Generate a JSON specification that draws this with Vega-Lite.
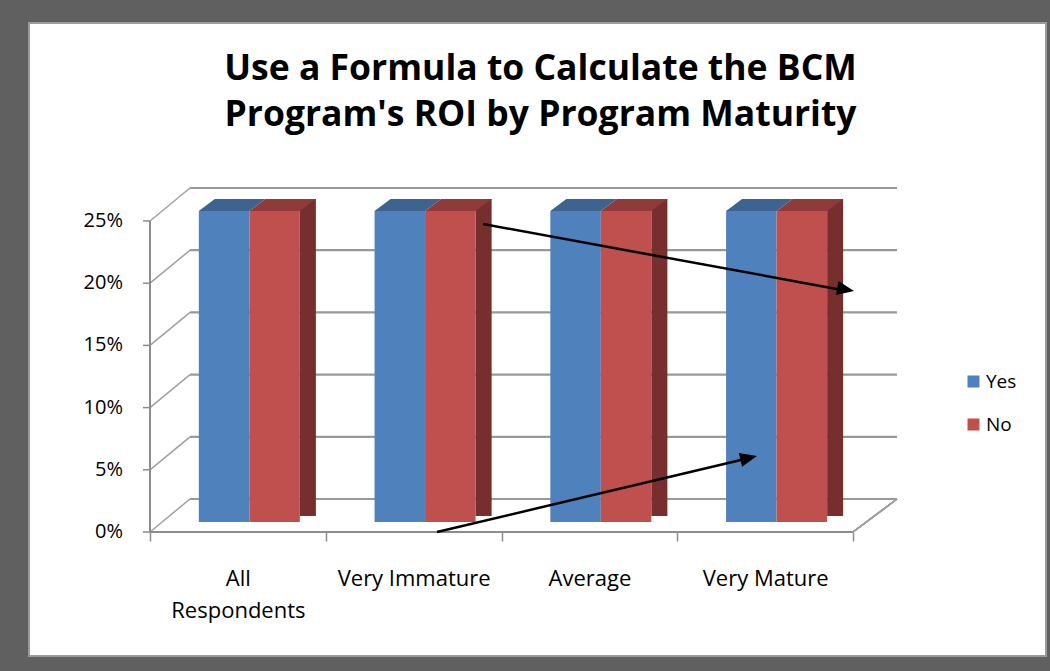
{
  "$schema": "https://vega.github.io/schema/vega-lite/v6.json",
  "width": 1017,
  "height": 633,
  "autosize": {"type": "none"},
  "padding": {"left": 29, "top": 23, "right": 4, "bottom": 15},
  "background": "#606060",
  "config": {
    "view": {"fill": "white", "stroke": "#9a9a9a", "strokeWidth": 2},
    "font": "Open Sans"
  },
  "title": {
    "text": ["Use a Formula to Calculate the BCM", "Program's ROI by Program Maturity"],
    "orient": "top",
    "anchor": "middle",
    "frame": "group",
    "offset": -138,
    "baseline": "alphabetic",
    "fontSize": 35.5,
    "fontWeight": "bold",
    "font": "Open Sans",
    "color": "#000000",
    "lineHeight": 46,
    "dx": 3
  },
  "datasets": {
    "bars": [
      {"category": "All Respondents", "series": "Yes", "value": 0.25},
      {"category": "All Respondents", "series": "No", "value": 0.25},
      {"category": "Very Immature", "series": "Yes", "value": 0.25},
      {"category": "Very Immature", "series": "No", "value": 0.25},
      {"category": "Average", "series": "Yes", "value": 0.25},
      {"category": "Average", "series": "No", "value": 0.25},
      {"category": "Very Mature", "series": "Yes", "value": 0.25},
      {"category": "Very Mature", "series": "No", "value": 0.25}
    ],
    "grid": [
      {"level": 0}, {"level": 0.05}, {"level": 0.1}, {"level": 0.15}, {"level": 0.2}, {"level": 0.25}
    ]
  },
  "layer": [
    {
      "data": {"name": "grid"},
      "layer": [
        {
          "mark": {"type": "rule", "color": "#999999", "strokeWidth": 2.2, "xOffset": 40, "x2Offset": 44, "yOffset": -33},
          "encoding": {
            "x": {"datum": 0, "type": "quantitative", "scale": {"domain": [-0.6885, 5.0982], "nice": false, "zero": false}, "axis": null},
            "x2": {"datum": 4},
            "y": {"field": "level", "type": "quantitative", "scale": {"domain": [-0.09968, 0.40916], "nice": false, "zero": false}, "axis": null}
          }
        },
        {
          "mark": {"type": "rule", "color": "#a0a0a0", "strokeWidth": 1.5, "x2Offset": 40, "y2Offset": -33},
          "encoding": {
            "x": {"datum": 0, "type": "quantitative", "axis": null},
            "x2": {"datum": 0},
            "y": {"field": "level", "type": "quantitative", "axis": null},
            "y2": {"field": "level"}
          }
        },
        {
          "mark": {"type": "rule", "color": "#8c8c8c", "strokeWidth": 1.5, "x2Offset": -7},
          "encoding": {
            "x": {"datum": 0, "type": "quantitative", "axis": null},
            "x2": {"datum": 0},
            "y": {"field": "level", "type": "quantitative", "axis": null},
            "y2": {"field": "level"}
          }
        },
        {
          "mark": {"type": "text", "align": "right", "baseline": "middle", "xOffset": -27, "font": "Open Sans", "fontSize": 20, "color": "#000000"},
          "encoding": {
            "x": {"datum": 0, "type": "quantitative", "axis": null},
            "y": {"field": "level", "type": "quantitative", "axis": null},
            "text": {"field": "level", "type": "quantitative", "format": ".0%"}
          }
        },
        {
          "mark": {"type": "rule", "color": "#8c8c8c", "strokeWidth": 1.5},
          "encoding": {
            "x": {"datum": 0, "type": "quantitative", "axis": null},
            "x2": {"datum": 4},
            "y": {"datum": 0, "type": "quantitative", "axis": null}
          }
        },
        {
          "mark": {"type": "rule", "color": "#a0a0a0", "strokeWidth": 1.5, "x2Offset": 44, "y2Offset": -33},
          "encoding": {
            "x": {"datum": 4, "type": "quantitative", "axis": null},
            "x2": {"datum": 4},
            "y": {"datum": 0, "type": "quantitative", "axis": null},
            "y2": {"datum": 0}
          }
        },
        {
          "mark": {"type": "rule", "color": "#8c8c8c", "strokeWidth": 1.5},
          "encoding": {
            "x": {"datum": 0, "type": "quantitative", "axis": null},
            "y": {"datum": 0, "type": "quantitative", "axis": null},
            "y2": {"datum": 0.25}
          }
        }
      ]
    },
    {
      "data": {"name": "bars"},
      "layer": [
        {
          "mark": {"type": "bar", "yOffset": -10, "y2Offset": -10},
          "encoding": {
            "x": {
              "field": "category", "type": "nominal",
              "sort": ["All Respondents", "Very Immature", "Average", "Very Mature"],
              "scale": {"paddingInner": 0, "paddingOuter": 0.8933, "align": 0.3854},
              "axis": {
                "title": null, "orient": "bottom", "offset": -124, "domain": false, "grid": false,
                "ticks": true, "tickBand": "extent", "tickSize": 9, "tickColor": "#8c8c8c", "tickWidth": 1.5,
                "labelFont": "Open Sans", "labelFontSize": 22, "labelColor": "#000000", "labelPadding": 27,
                "labelAngle": 0, "labelLineHeight": 32, "labelLimit": 400, "labelOverlap": false,
                "labelExpr": "datum.label === 'All Respondents' ? ['All', 'Respondents'] : datum.label"
              }
            },
            "xOffset": {
              "field": "series", "type": "nominal", "sort": ["Yes", "No"],
              "scale": {"domain": ["Yes", "No"], "paddingInner": 0, "paddingOuter": 0.74, "align": 0.653}
            },
            "y": {
              "field": "value", "type": "quantitative", "stack": null,
              "scale": {"domain": [-0.09968, 0.40916], "nice": false, "zero": false},
              "axis": null
            },
            "y2": {"datum": 0},
            "color": {
              "field": "series", "type": "nominal", "sort": ["Yes", "No"],
              "scale": {"domain": ["Yes", "No"], "range": ["#4f81bd", "#c0504d"]},
              "legend": {
                "title": null, "orient": "none", "legendX": 935, "legendY": 349,
                "symbolType": "square", "symbolSize": 144, "symbolStrokeWidth": 0, "symbolOpacity": 1,
                "labelFont": "Open Sans", "labelFontSize": 19, "labelColor": "#000000",
                "labelOffset": 3, "rowPadding": 23, "padding": 0
              }
            }
          }
        },
        {
          "transform": [{"filter": "datum.series === 'No'"}],
          "mark": {"type": "bar", "color": "#772f2d", "width": 16, "xOffset": 70, "yOffset": -22, "y2Offset": -16},
          "encoding": {
            "x": {"field": "category", "type": "nominal", "sort": ["All Respondents", "Very Immature", "Average", "Very Mature"]},
            "y": {"field": "value", "type": "quantitative", "stack": null, "axis": null},
            "y2": {"datum": 0}
          }
        },
        {
          "transform": [{"filter": "datum.series === 'Yes'"}],
          "mark": {"type": "point", "filled": true, "size": 4, "opacity": 1, "strokeWidth": 0, "fill": "#3d6491",
                   "shape": "M -39.1 -10 L 11.4 -10 L 27.4 -22 L -23.1 -22 Z"},
          "encoding": {
            "x": {"field": "category", "type": "nominal", "sort": ["All Respondents", "Very Immature", "Average", "Very Mature"]},
            "y": {"field": "value", "type": "quantitative", "axis": null}
          }
        },
        {
          "transform": [{"filter": "datum.series === 'No'"}],
          "mark": {"type": "point", "filled": true, "size": 4, "opacity": 1, "strokeWidth": 0, "fill": "#8f3b39",
                   "shape": "M 11.4 -10 L 61.9 -10 L 77.9 -22 L 27.4 -22 Z"},
          "encoding": {
            "x": {"field": "category", "type": "nominal", "sort": ["All Respondents", "Very Immature", "Average", "Very Mature"]},
            "y": {"field": "value", "type": "quantitative", "axis": null}
          }
        }
      ]
    },
    {
      "data": {"values": [{}]},
      "layer": [
        {
          "mark": {"type": "rule", "color": "#000000", "strokeWidth": 2.5},
          "encoding": {
            "x": {"datum": 1.8947, "type": "quantitative", "scale": {"domain": [-0.6885, 5.0982], "nice": false, "zero": false}, "axis": null},
            "x2": {"datum": 3.93},
            "y": {"datum": 0.2476, "type": "quantitative", "axis": null},
            "y2": {"datum": 0.1948}
          }
        },
        {
          "mark": {"type": "rule", "color": "#000000", "strokeWidth": 2.5},
          "encoding": {
            "x": {"datum": 1.633, "type": "quantitative", "axis": null},
            "x2": {"datum": 3.38},
            "y": {"datum": 0, "type": "quantitative", "axis": null},
            "y2": {"datum": 0.0585}
          }
        },
        {
          "mark": {"type": "point", "filled": true, "size": 4, "opacity": 1, "strokeWidth": 0, "fill": "#000000",
                   "shape": "M 0 0 L -17 -7 L -17 7 Z", "angle": 10.24},
          "encoding": {
            "x": {"datum": 4.0057, "type": "quantitative", "axis": null},
            "y": {"datum": 0.1937, "type": "quantitative", "axis": null}
          }
        },
        {
          "mark": {"type": "point", "filled": true, "size": 4, "opacity": 1, "strokeWidth": 0, "fill": "#000000",
                   "shape": "M 0 0 L -17 -7 L -17 7 Z", "angle": -13.36},
          "encoding": {
            "x": {"datum": 3.4538, "type": "quantitative", "axis": null},
            "y": {"datum": 0.0611, "type": "quantitative", "axis": null}
          }
        }
      ]
    }
  ],
  "resolve": {"scale": {"x": "independent"}}
}
